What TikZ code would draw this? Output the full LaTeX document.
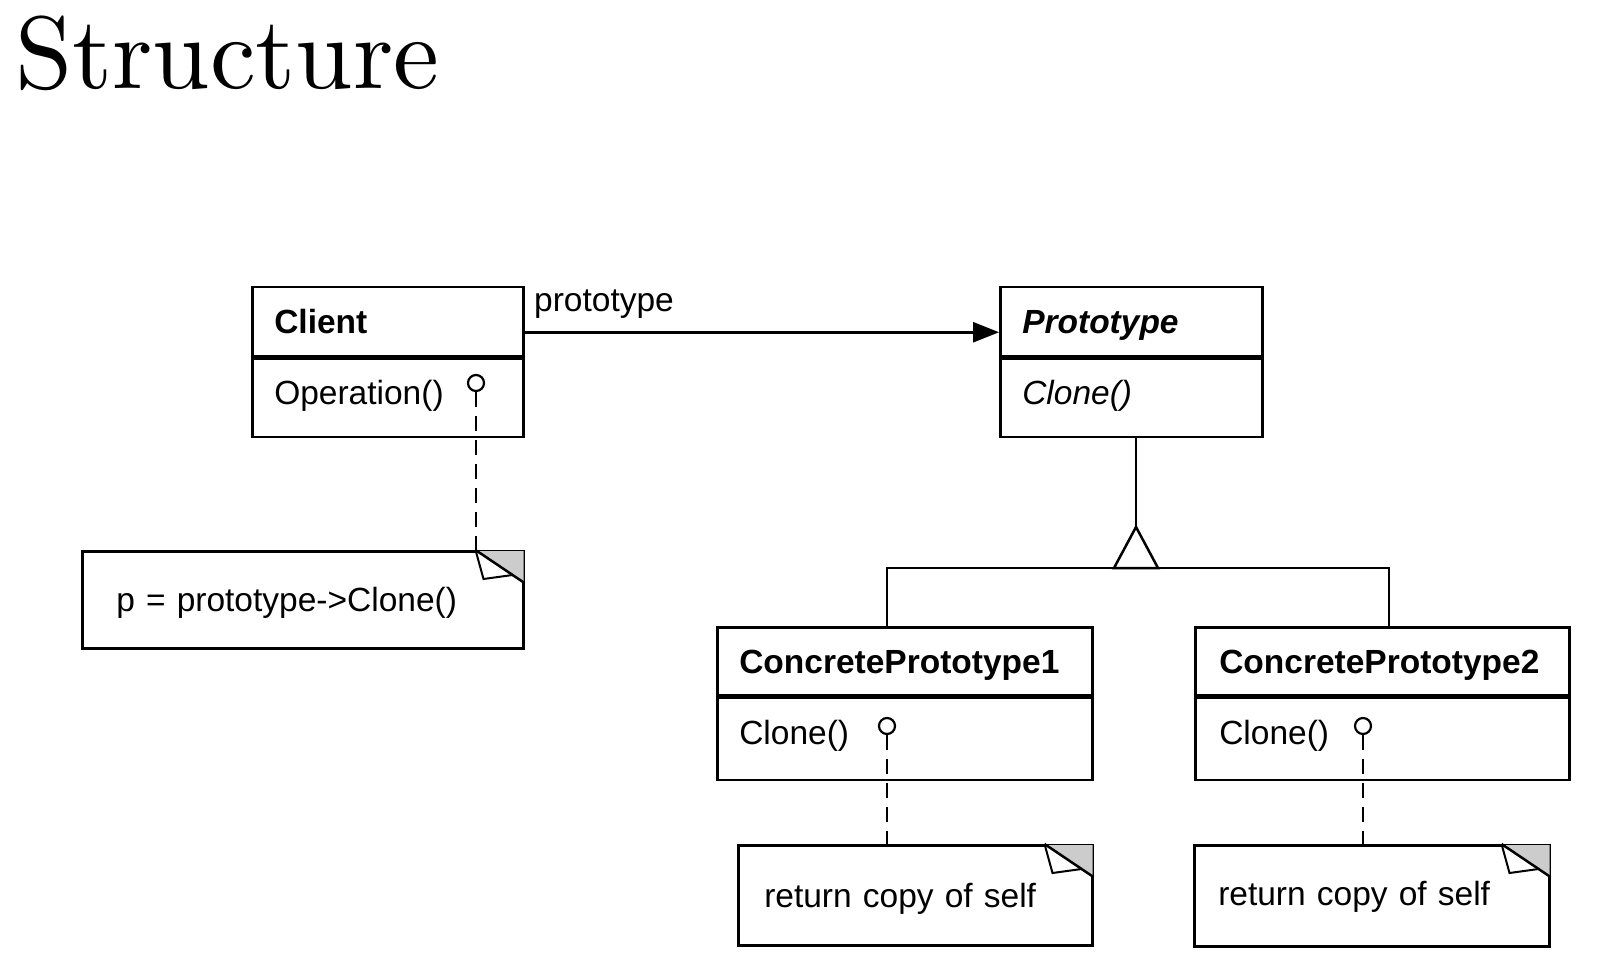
\documentclass[tikz,border=0pt]{standalone}
\usepackage{fontspec}
\newfontfamily\umlfont{Liberation Sans}
\usetikzlibrary{arrows.meta, positioning}
\definecolor{foldgray}{RGB}{204,204,204}

% folded corner of a note
\newcommand{\dogear}[1]{%
  \fill[foldgray] ([xshift=-49pt,yshift=-1pt]#1.north east) -- ([xshift=-1pt,yshift=-1pt]#1.north east) -- ([xshift=-1pt,yshift=-33pt]#1.north east) -- cycle;
  \draw[line width=2.5pt] ([xshift=-49pt]#1.north east) -- ([yshift=-33pt]#1.north east);
  \draw[line width=2pt] ([xshift=-49pt]#1.north east) -- ([xshift=-41pt,yshift=-29pt]#1.north east) -- ([xshift=-12pt,yshift=-25pt]#1.north east);
}

\begin{document}
\begin{tikzpicture}[x=1pt, y=-1pt,
  uml/.style={font=\umlfont\fontsize{33.5}{40}\selectfont},
  cls/.style={uml, draw, line width=2.5pt, anchor=north west, inner xsep=22pt,
  inner ysep=0pt, align=left, text height=24pt, text depth=0pt},
  body/.style={cls, text depth=10pt},
  socket/.style={circle, draw, line width=2.2pt, minimum size=16pt, inner sep=0pt, fill=white},
  notelink/.style={line width=2.7pt, dash pattern=on 15pt off 9pt},
  assoc/.style={line width=2.5pt, -{Triangle[length=26pt,width=20pt]}},
  wire/.style={line width=2.5pt}]
  \path[use as bounding box, fill=white] (0,0) rectangle (1602,957);

  \node[anchor=base west, inner sep=0pt] (TITLE) at (15,89) {\scalebox{10.3}{\fontsize{10}{12}\selectfont Structure}};

  \node[cls, text width=227pt, minimum height=69pt] (CLI1) at (251,286) {\bfseries Client};
  \node[body, text width=227pt, minimum height=78pt] (CLI2) at (CLI1.south west) {Operation()};

  \node[cls, text width=218pt, minimum height=69pt] (PRO1) at (999,286) {\bfseries\itshape Prototype};
  \node[body, text width=218pt, minimum height=78pt] (PRO2) at (PRO1.south west) {\itshape Clone()};

  \node[cls, text width=331pt, minimum height=68pt] (CP11) at (716,626) {\bfseries ConcretePrototype1};
  \node[body, text depth=12pt, text width=331pt, minimum height=82pt] (CP12) at (CP11.south west) {Clone()};

  \node[cls, inner xsep=24pt, text width=326pt, minimum height=68pt] (CP21) at (1194,626) {\bfseries ConcretePrototype2};
  \node[body, text depth=12pt, inner xsep=24pt, text width=326pt, minimum height=82pt] (CP22) at (CP21.south west) {Clone()};

  % notes
  \node[cls, inner xsep=34pt, text width=373pt, minimum height=97pt] (NOTE1) at (81,550) {p = prototype->Clone()};
  \node[cls, inner xsep=26pt, text width=302pt, minimum height=100pt] (NOTE2) at (737,844) {return copy of self};
  \node[cls, text depth=4pt, inner xsep=24pt, text width=307pt, minimum height=101pt] (NOTE3) at (1193,844) {return copy of self};
  \dogear{NOTE1}
  \dogear{NOTE2}
  \dogear{NOTE3}

  \node[uml, anchor=base west, inner sep=0pt] (PLBL) at (534,312) {prototype};
  \draw[assoc] ([yshift=-10.5pt]CLI1.east) -- ([yshift=-10.5pt]PRO1.west);

  \node[socket] (S1) at (476,383) {};
  \node[socket] (S2) at (887,726) {};
  \node[socket] (S3) at (1363,726) {};
  \draw[notelink] (S1.south) -- (S1 |- NOTE1.north);
  \draw[notelink] (S2.south) -- (S2 |- NOTE2.north);
  \draw[notelink] (S3.south) -- (S3 |- NOTE3.north);

  % inheritance
  \coordinate (TIP) at (1136,527);
  \coordinate (JL) at (887,568);
  \coordinate (JR) at (1389,568);
  \draw[wire] (TIP |- PRO2.south) -- (TIP);
  \draw[wire] (TIP) -- ++(-22pt,-41pt) -- ++(44pt,0pt) -- cycle;
  \draw[wire] (JL |- CP11.north) -- (JL) -- (JR) -- (JR |- CP21.north);
\end{tikzpicture}
\end{document}
